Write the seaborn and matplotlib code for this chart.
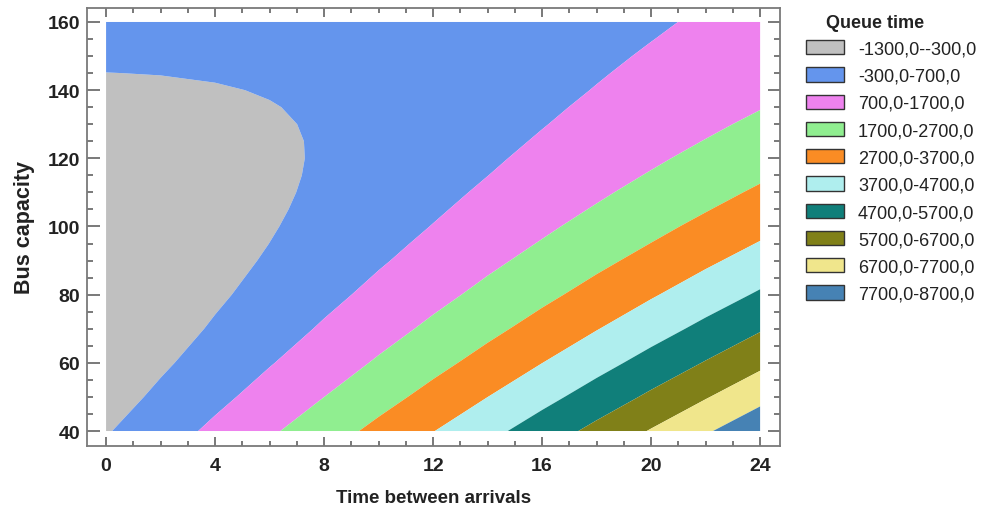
import matplotlib
matplotlib.use("Agg")
import matplotlib.pyplot as plt
from matplotlib.patches import Patch
from matplotlib.ticker import MultipleLocator
import seaborn as sns

# ---- data ----
time_between_arrivals = [0, 2, 4, 6, 8, 10, 12, 14, 16, 18, 20, 22, 24]
bus_capacity = [40, 50, 60, 70, 80, 90, 95, 100, 105, 110, 115, 120,
                125, 130, 135, 140, 145, 150, 155, 160]
# queue time estimated on the grid: one row per bus capacity value
queue_time = [
    [-370, 255, 900, 1564, 2248, 2952, 3675, 4418, 5180, 5962, 6764, 7585, 8426],
    [-694, -126, 462, 1070, 1697, 2344, 3010, 3696, 4401, 5126, 5871, 6635, 7419],
    [-948, -437, 94, 645, 1215, 1805, 2414, 3043, 3692, 4360, 5048, 5755, 6482],
    [-1133, -679, -205, 289, 803, 1335, 1888, 2460, 3052, 3663, 4294, 4944, 5615],
    [-1249, -851, -434, 3, 459, 935, 1431, 1946, 2481, 3035, 3609, 4203, 4816],
    [-1295, -954, -594, -214, 186, 605, 1044, 1502, 1980, 2477, 2994, 3531, 4087],
    [-1292, -979, -648, -296, 75, 466, 876, 1306, 1755, 2224, 2713, 3221, 3749],
    [-1271, -988, -684, -361, -19, 344, 725, 1127, 1548, 1988, 2449, 2928, 3428],
    [-1234, -978, -703, -409, -95, 239, 592, 965, 1358, 1770, 2202, 2653, 3124],
    [-1179, -952, -705, -439, -154, 152, 477, 821, 1185, 1569, 1972, 2395, 2838],
    [-1106, -908, -690, -452, -195, 82, 378, 694, 1030, 1385, 1760, 2155, 2569],
    [-1017, -847, -657, -448, -219, 29, 297, 585, 892, 1219, 1565, 1931, 2317],
    [-910, -768, -607, -426, -226, -6, 234, 493, 772, 1070, 1388, 1726, 2083],
    [-785, -672, -539, -387, -215, -24, 188, 418, 669, 938, 1228, 1537, 1866],
    [-643, -559, -454, -331, -187, -24, 159, 361, 583, 824, 1085, 1366, 1666],
    [-484, -428, -352, -257, -142, -7, 147, 321, 514, 727, 960, 1212, 1484],
    [-308, -280, -233, -166, -79, 27, 153, 298, 463, 648, 852, 1076, 1319],
    [-114, -115, -96, -57, 1, 79, 176, 293, 429, 585, 761, 956, 1171],
    [97, 68, 59, 69, 98, 148, 216, 305, 413, 541, 688, 855, 1041],
    [326, 268, 230, 212, 213, 234, 274, 334, 414, 513, 632, 770, 928],
]
levels = [-1300, -300, 700, 1700, 2700, 3700, 4700, 5700, 6700, 7700, 8700]
level_labels = [
    "-1300,0--300,0", "-300,0-700,0", "700,0-1700,0", "1700,0-2700,0",
    "2700,0-3700,0", "3700,0-4700,0", "4700,0-5700,0", "5700,0-6700,0",
    "6700,0-7700,0", "7700,0-8700,0",
]
x_ticks = [0, 4, 8, 12, 16, 20, 24]
y_ticks = [40, 60, 80, 100, 120, 140, 160]

colors = ["#C0C0C0", "#6495ED", "#EE82EE", "#90EE90", "#FA8C24",
          "#AFEEEE", "#107F7A", "#808018", "#F0E68C", "#4682B4"]
palette = sns.color_palette(colors)

sns.set_style("ticks")
plt.rcParams["font.family"] = ["Liberation Sans", "DejaVu Sans"]

W, H = 986, 510
fig = plt.figure(figsize=(W / 100, H / 100), dpi=100)
ax = fig.add_axes([87 / W, 1 - 447 / H, (780 - 87) / W, (447 - 9) / H])

ax.contourf(time_between_arrivals, bus_capacity, queue_time,
            levels=levels, colors=palette, antialiased=True)

ax.set_xlim(-0.70, 24.73)
ax.set_ylim(35.6, 164.1)
ax.set_xticks(x_ticks)
ax.set_yticks(y_ticks)
ax.xaxis.set_minor_locator(MultipleLocator(1))
ax.yaxis.set_minor_locator(MultipleLocator(5))

for sp in ax.spines.values():
    sp.set_color("#7a7a7a")
    sp.set_linewidth(1.3)

ax.tick_params(which="both", direction="in", top=True, right=True,
               color="#555555", width=1.1)
ax.tick_params(axis="x", which="major", length=6.5, pad=8)
ax.tick_params(axis="x", which="minor", length=3.5)
ax.tick_params(axis="y", which="major", length=9, pad=5)
ax.tick_params(axis="y", which="minor", length=4.5)
for lab in ax.get_xticklabels() + ax.get_yticklabels():
    lab.set_fontsize(14)
    lab.set_fontweight("bold")
    lab.set_color("#222222")

ax.set_xlabel("Time between arrivals", fontsize=13.5, fontweight="bold",
              color="#222222", labelpad=11)
ax.set_ylabel("Bus capacity", fontsize=15.5, fontweight="bold",
              color="#222222", labelpad=9)

fig.text(826 / W, 1 - 23 / H, "Queue time", ha="left", va="center",
         fontsize=13, fontweight="bold", color="#222222")

handles = [Patch(facecolor=c, edgecolor="#333333", linewidth=1.0) for c in colors]
leg = fig.legend(handles, level_labels,
                 loc="upper left", bbox_to_anchor=(806 / W, 1 - 41 / H),
                 frameon=False, fontsize=13.1,
                 handlelength=2.08, handleheight=0.83, handletextpad=0.78,
                 labelspacing=0.54, borderaxespad=0.0, borderpad=0.0)
for t in leg.get_texts():
    t.set_color("#222222")

fig.savefig("out.png", dpi=100)
